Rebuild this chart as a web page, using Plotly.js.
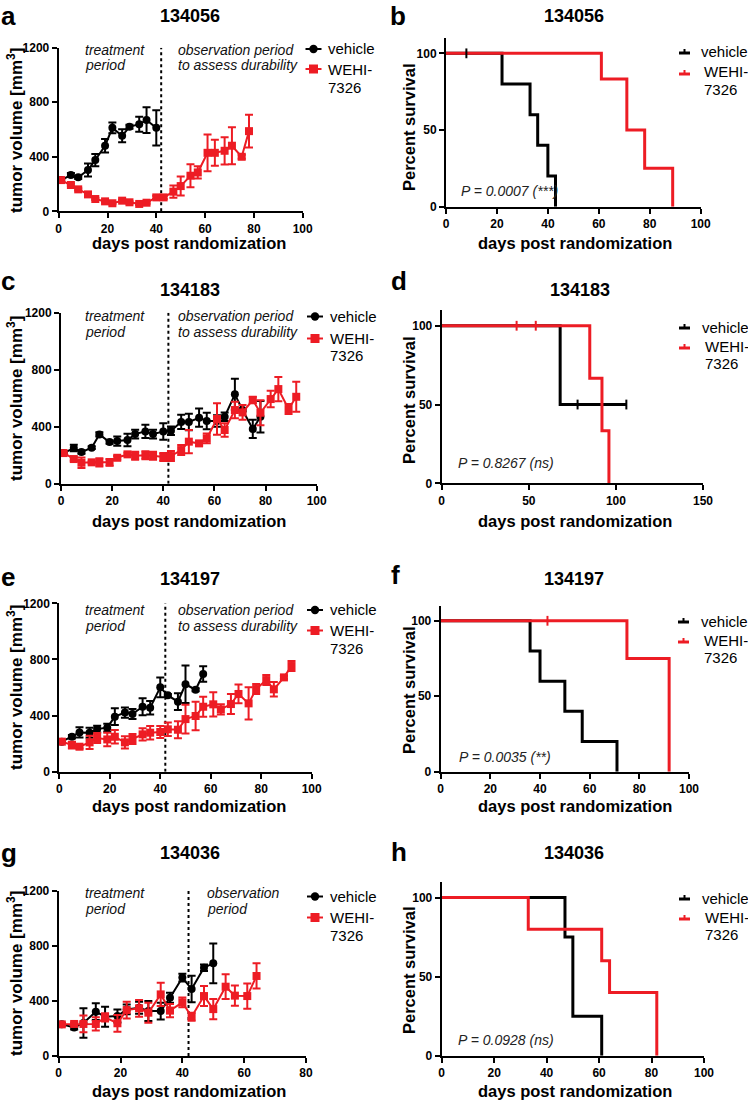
<!DOCTYPE html>
<html><head><meta charset="utf-8">
<script src="https://cdn.plot.ly/plotly-3.0.1.min.js"></script>
<style>body{margin:0;background:#fff}#chart{width:748px;height:1100px}</style>
</head><body><div id="chart"></div>
<script>
// ---------------- DATA ----------------
const seriesNames = ['vehicle', 'WEHI-7326'];
const legendLines = ['vehicle', 'WEHI-', '7326'];
const modelIds = ['134056', '134183', '134197', '134036'];
const pValues = ['P = 0.0007 (***)', 'P = 0.8267 (ns)', 'P = 0.0035 (**)', 'P = 0.0928 (ns)'];
const treatmentEnd = 42;

// Panel a (134056) tumour volume
const daysA_veh = [1,5,8,12,15,19,22,26,29,33,36,40];
const volA_veh  = [229,266,249,303,376,481,612,554,620,639,669,612];
const errA_veh  = [10,15,12,48,45,50,40,48,15,55,95,130];
const daysA_trt = [1,5,8,12,15,19,22,26,29,33,36,40,43,47,50,54,57,61,64,68,71,75,78];
const volA_trt  = [229,193,161,124,90,73,59,78,66,54,63,102,102,144,185,261,285,429,429,444,481,400,588];
const errA_trt  = [8,10,8,10,8,8,8,8,8,8,8,12,12,45,70,85,45,135,95,100,135,15,120];

// Panel b (134056) survival
const survB_veh_t = [0,22,33,36,40,43];
const survB_veh_s = [100,80,60,40,20,0];
const survB_trt_t = [0,61,71,78,89];
const survB_trt_s = [100,83.3,50,25,0];
const censB_veh_t = [8];
const censB_veh_s = [100];

// Panel c (134183) tumour volume
const daysC_veh = [1,5,8,12,15,19,22,26,29,33,36,40,43,47,50,54,57,61,64,68,71,75,78];
const volC_veh  = [215,250,222,253,346,292,299,306,348,367,348,367,372,433,433,463,440,440,470,627,517,384,470];
const errC_veh  = [10,23,12,10,15,12,32,44,30,47,30,58,30,50,58,64,58,41,30,110,10,64,110];
const daysC_trt = [1,5,8,12,15,19,22,26,29,33,36,40,43,47,50,54,57,61,64,68,71,75,78,82,85,89,92];
const volC_trt  = [215,173,147,150,150,150,182,206,196,199,196,187,194,236,295,283,318,454,377,517,500,587,498,594,664,524,610];
const errC_trt  = [8,12,36,8,29,24,12,12,28,28,28,28,35,35,82,15,35,110,47,58,52,23,88,58,85,35,105];

// Panel d (134183) survival
const survD_veh_t = [0,68,106];
const survD_veh_s = [100,50,50];
const survD_trt_t = [0,85,92,96];
const survD_trt_s = [100,66.7,33.3,0];
const censD_veh_t = [78,106];
const censD_veh_s = [50,50];
const censD_trt_t = [43,54];
const censD_trt_s = [100,100];

// Panel e (134197) tumour volume
const daysE_veh = [1,5,8,12,15,19,22,26,29,33,36,40,43,47,50,54,57];
const volE_veh  = [214,249,280,278,304,314,392,421,411,463,456,601,544,499,623,584,696];
const errE_veh  = [8,12,36,36,24,28,60,36,36,60,48,71,10,60,133,10,55];
const daysE_trt = [1,5,8,12,15,19,22,26,29,33,36,40,43,47,50,54,57,61,64,68,71,75,78,82,85,89,92];
const volE_trt  = [214,190,178,209,240,230,249,209,233,266,278,283,302,299,375,397,463,480,444,482,554,487,589,653,587,672,753];
const errE_trt  = [8,24,12,48,36,48,48,43,36,43,48,43,48,60,102,102,71,86,36,71,67,115,36,36,52,12,36];

// Panel f (134197) survival
const survF_veh_t = [0,36,40,50,57,71];
const survF_veh_s = [100,80,60,40,20,0];
const survF_trt_t = [0,75,92];
const survF_trt_s = [100,75,0];
const censF_trt_t = [43];
const censF_trt_s = [100];

// Panel g (134036) tumour volume
const daysG_veh = [1,5,8,12,15,19,22,26,29,33,36,40,43,47,50];
const volG_veh  = [230,208,240,322,286,291,339,351,327,327,424,570,487,642,674];
const errG_veh  = [10,15,107,61,73,48,36,44,73,61,36,29,97,24,145];
const daysG_trt = [1,5,8,12,15,19,22,26,29,33,36,40,43,47,50,54,57,61,64];
const volG_trt  = [230,233,233,233,281,238,334,347,315,448,330,390,286,436,341,504,439,436,582];
const errG_trt  = [10,10,61,48,30,61,61,61,73,85,48,36,29,73,73,90,73,92,92];

// Panel h (134036) survival
const survH_veh_t = [0,47,50,61];
const survH_veh_s = [100,75,25,0];
const survH_trt_t = [0,33,61,64,82];
const survH_trt_s = [100,80,60,40,0];

// ---------------- STYLE / LAYOUT ----------------
const W = 748, H = 1100;
const RED = '#ED1C24', BLK = '#000000';
const FONT = 'Liberation Sans, Arial, sans-serif';
const X = p => p / W;
const Y = p => 1 - p / H;

// plot-area pixel boxes [left, right, top, bottom]
const boxes = [
  [58.7, 302.7, 47.7, 211.3],   // a
  [446, 700.7, 38, 206.7],      // b
  [61, 316.7, 312.7, 483.7],    // c
  [441.7, 703, 310, 483.3],     // d
  [59.3, 311.7, 603.3, 771.7],  // e
  [440.7, 689, 605.7, 771.7],   // f
  [58.7, 306, 891, 1056],       // g
  [441.7, 704, 881.7, 1055.7]   // h
];

const tickfont = {family: FONT, size: 12, color: BLK, weight: 'bold'};
function baseAxis(n, isX, box) {
  const ax = {
    showline: true, linewidth: 2, linecolor: BLK, mirror: false,
    ticks: 'outside', ticklen: 5, tickwidth: 2, tickcolor: BLK,
    showgrid: false, zeroline: false, tickfont: tickfont, fixedrange: true, automargin: false,
    anchor: (isX ? 'y' : 'x') + (n === 1 ? '' : n)
  };
  ax.domain = isX ? [X(box[0]), X(box[1])] : [Y(box[3]), Y(box[2])];
  return ax;
}

const layout = {
  width: W, height: H, autosize: false, showlegend: false,
  margin: {l: 0, r: 0, t: 0, b: 0, pad: 0, autoexpand: false},
  paper_bgcolor: '#fff', plot_bgcolor: 'rgba(0,0,0,0)',
  font: {family: FONT, color: BLK},
  annotations: [], shapes: []
};

const tumorXmax = [100, 100, 100, 80];
const survXmax = [100, 150, 100, 100];
for (let i = 0; i < 8; i++) {
  const n = i + 1, sfx = n === 1 ? '' : String(n);
  const box = boxes[i];
  const xa = baseAxis(n, true, box), ya = baseAxis(n, false, box);
  const row = Math.floor(i / 2);
  // secondary overlay axis carrying the unlabeled (minor) x ticks
  const mx = {domain: xa.domain, anchor: 'y' + sfx, overlaying: 'x' + sfx, side: 'bottom', showline: false,
    showgrid: false, zeroline: false, showticklabels: false, ticks: 'outside', tickcolor: BLK, fixedrange: true, automargin: false};
  if (i % 2 === 0) {
    xa.range = [0, tumorXmax[row]]; xa.tick0 = 0; xa.dtick = 20;
    Object.assign(mx, {range: xa.range, tick0: 0, dtick: 10, ticklen: 5, tickwidth: 2});
    ya.range = [0, 1200]; ya.tick0 = 0; ya.dtick = 400;
  } else {
    const xm = survXmax[row];
    xa.range = [0, xm]; xa.tick0 = 0; xa.dtick = xm === 150 ? 50 : 20;
    Object.assign(mx, {range: xa.range, tick0: 0, dtick: xm === 150 ? 10 : 2, ticklen: 3, tickwidth: 1.5});
    ya.range = [0, 110]; ya.tickvals = [0, 50, 100];
  }
  layout['xaxis' + sfx] = xa;
  layout['yaxis' + sfx] = ya;
  layout['xaxis' + (n + 8)] = mx;
}

// ---------------- TRACES ----------------
const traces = [];
function tumor(n, d1, v1, e1, d2, v2, e2) {
  const sfx = n === 1 ? '' : String(n);
  traces.push({x: d1, y: v1, error_y: {type: 'data', array: e1, visible: true, color: BLK, thickness: 2, width: 4},
    mode: 'lines+markers', name: seriesNames[0], line: {color: BLK, width: 2},
    marker: {symbol: 'circle', size: 8, color: BLK}, xaxis: 'x' + sfx, yaxis: 'y' + sfx, cliponaxis: false});
  traces.push({x: d2, y: v2, error_y: {type: 'data', array: e2, visible: true, color: RED, thickness: 2, width: 4},
    mode: 'lines+markers', name: seriesNames[1], line: {color: RED, width: 2},
    marker: {symbol: 'square', size: 8, color: RED}, xaxis: 'x' + sfx, yaxis: 'y' + sfx, cliponaxis: false});
}
function surv(n, t1, s1, t2, s2, cens) {
  const sfx = String(n);
  traces.push({x: t1, y: s1, mode: 'lines', line: {shape: 'hv', color: BLK, width: 3}, name: seriesNames[0],
    xaxis: 'x' + sfx, yaxis: 'y' + sfx, cliponaxis: false});
  traces.push({x: t2, y: s2, mode: 'lines', line: {shape: 'hv', color: RED, width: 3}, name: seriesNames[1],
    xaxis: 'x' + sfx, yaxis: 'y' + sfx, cliponaxis: false});
  cens.forEach(c => traces.push({x: c[0], y: c[1], mode: 'markers', hoverinfo: 'skip',
    marker: {symbol: 'line-ns', size: 7, line: {width: 2, color: c[2]}}, xaxis: 'x' + sfx, yaxis: 'y' + sfx, cliponaxis: false}));
}
tumor(1, daysA_veh, volA_veh, errA_veh, daysA_trt, volA_trt, errA_trt);
surv(2, survB_veh_t, survB_veh_s, survB_trt_t, survB_trt_s, [[censB_veh_t, censB_veh_s, BLK]]);
tumor(3, daysC_veh, volC_veh, errC_veh, daysC_trt, volC_trt, errC_trt);
surv(4, survD_veh_t, survD_veh_s, survD_trt_t, survD_trt_s, [[censD_veh_t, censD_veh_s, BLK], [censD_trt_t, censD_trt_s, RED]]);
tumor(5, daysE_veh, volE_veh, errE_veh, daysE_trt, volE_trt, errE_trt);
surv(6, survF_veh_t, survF_veh_s, survF_trt_t, survF_trt_s, [[censF_trt_t, censF_trt_s, RED]]);
tumor(7, daysG_veh, volG_veh, errG_veh, daysG_trt, volG_trt, errG_trt);
surv(8, survH_veh_t, survH_veh_s, survH_trt_t, survH_trt_s, []);

// ---------------- SHAPES: end of treatment ----------------
[1, 3, 5, 7].forEach(n => {
  const sfx = n === 1 ? '' : String(n);
  layout.shapes.push({type: 'line', xref: 'x' + sfx, yref: 'y' + sfx, x0: treatmentEnd, x1: treatmentEnd, y0: 0, y1: 1200,
    line: {color: BLK, width: 2, dash: 'dot'}, layer: 'below'});
});

// ---------------- ANNOTATIONS ----------------
function ann(text, xp, yp, o) {
  layout.annotations.push(Object.assign({text: text, x: X(xp), y: Y(yp), xref: 'paper', yref: 'paper',
    showarrow: false, xanchor: 'center', yanchor: 'middle', font: {family: FONT, size: 15, color: BLK}}, o || {}));
}
function pline(x0, y0, x1, y1, color, width) {
  layout.shapes.push({type: 'line', xref: 'paper', yref: 'paper', x0: X(x0), x1: X(x1), y0: Y(y0), y1: Y(y1),
    line: {color: color, width: width}});
}
// tumour legends: [glyph centre x, text left x, y vehicle glyph, y WEHI glyph, y vehicle text, y WEHI- text, y 7326 text]
const tumLeg = [[313.5, 326, 49, 69, 48, 69, 88], [315, 328, 316.5, 338.5, 316, 338, 355],
                [315, 328, 610, 630.5, 609, 630, 648], [315, 328, 896.5, 917.5, 896.5, 917.5, 935]];
tumLeg.forEach(s => {
  const cx = s[0];
  pline(cx - 8, s[2], cx + 8, s[2], BLK, 2);
  layout.shapes.push({type: 'circle', xref: 'paper', yref: 'paper', x0: X(cx - 4.2), x1: X(cx + 4.2), y0: Y(s[2] + 4.2), y1: Y(s[2] - 4.2),
    fillcolor: BLK, line: {width: 0}});
  pline(cx - 8, s[3], cx + 8, s[3], RED, 2);
  layout.shapes.push({type: 'rect', xref: 'paper', yref: 'paper', x0: X(cx - 4.5), x1: X(cx + 4.5), y0: Y(s[3] + 4.5), y1: Y(s[3] - 4.5),
    fillcolor: RED, line: {width: 0}});
  ann(legendLines[0], s[1], s[4], {xanchor: 'left'});
  ann(legendLines[1], s[1], s[5], {xanchor: 'left'});
  ann(legendLines[2], s[1], s[6], {xanchor: 'left'});
});
// survival legends (glyph = short thick line with censor tick)
const survLeg = [ // [glyph left px, text left px, y vehicle, y WEHI-, y 7326]
  [679, 699, 52, 72, 90], [679, 700, 327, 346, 363], [678, 699, 621, 640, 657], [679, 700, 898, 917, 934]
];
survLeg.forEach(s => {
  [[s[2], BLK], [s[3] + 1, RED]].forEach(g => {
    pline(s[0], g[0] + 1, s[0] + 11, g[0] + 1, g[1], 3);
    pline(s[0] + 5.5, g[0] + 1, s[0] + 5.5, g[0] - 3, g[1], 2);
  });
  ann(legendLines[0], s[1], s[2], {xanchor: 'left'});
  ann(legendLines[1], s[1] + 3, s[3], {xanchor: 'left'});
  ann(legendLines[2], s[1] + 3, s[4], {xanchor: 'left'});
});
// panel letters
const letters = ['a','b','c','d','e','f','g','h'];
const letterPos = [[0, 0], [389, 0], [0, 264.5], [390, 264.5], [0, 560.5], [390, 558.5], [0, 837], [390, 835.5]];
letters.forEach((l, i) => ann('<b>' + l + '</b>', letterPos[i][0], letterPos[i][1],
  {xanchor: 'left', yanchor: 'top', borderpad: 0, font: {family: FONT, size: 26, color: BLK}}));
// panel titles
const titlePos = [[190, 16], [574, 16], [190, 290], [580, 290], [190, 579], [574, 579], [190, 853], [574, 853]];
titlePos.forEach((p, i) => ann('<b>' + modelIds[Math.floor(i / 2)] + '</b>', p[0], p[1], {font: {family: FONT, size: 18, color: BLK}}));
// axis titles
const xTitleY = [243, 521, 806, 1091];
for (let r = 0; r < 4; r++) {
  ann('<b>days post randomization</b>', 189, xTitleY[r], {font: {family: FONT, size: 16.5, color: BLK}});
  ann('<b>days post randomization</b>', 575, xTitleY[r], {font: {family: FONT, size: 16.5, color: BLK}});
}
const yTitleTum = [131, 399, 688, 974];
const yTitleSurv = [127, 400, 690, 970];
for (let r = 0; r < 4; r++) {
  ann('<b>tumor volume [mm<sup>3</sup>]</b>', 15, yTitleTum[r], {textangle: -90, font: {family: FONT, size: 17, color: BLK}});
  ann('<b>Percent survival</b>', 409, yTitleSurv[r], {textangle: -90, font: {family: FONT, size: 16.5, color: BLK}});
}
// period annotations
const periodY = [[50, 65], [316, 332], [610, 626], [893, 909]];
const ital = {family: FONT, size: 14, color: '#111'};
for (let r = 0; r < 4; r++) {
  ann('<i>treatment</i>', 83, periodY[r][0], {xanchor: 'left', font: ital});
  ann('<i>period</i>', 83, periodY[r][1], {xanchor: 'left', font: ital});
  if (r < 3) {
    ann('<i>observation period</i>', 176, periodY[r][0], {xanchor: 'left', font: ital});
    ann('<i>to assess durability</i>', 176, periodY[r][1], {xanchor: 'left', font: ital});
  } else {
    ann('<i>observation</i>', 205, periodY[r][0], {xanchor: 'left', font: ital});
    ann('<i>period</i>', 205, periodY[r][1], {xanchor: 'left', font: ital});
  }
}
// p-values
const pPos = [[459, 191], [456, 463], [457, 757], [456, 1040]];
pPos.forEach((p, i) => ann('<i>' + pValues[i] + '</i>', p[0], p[1], {xanchor: 'left', font: {family: FONT, size: 14, color: '#222'}}));

Plotly.newPlot('chart', traces, layout, {staticPlot: true, displayModeBar: false});
</script></body></html>
